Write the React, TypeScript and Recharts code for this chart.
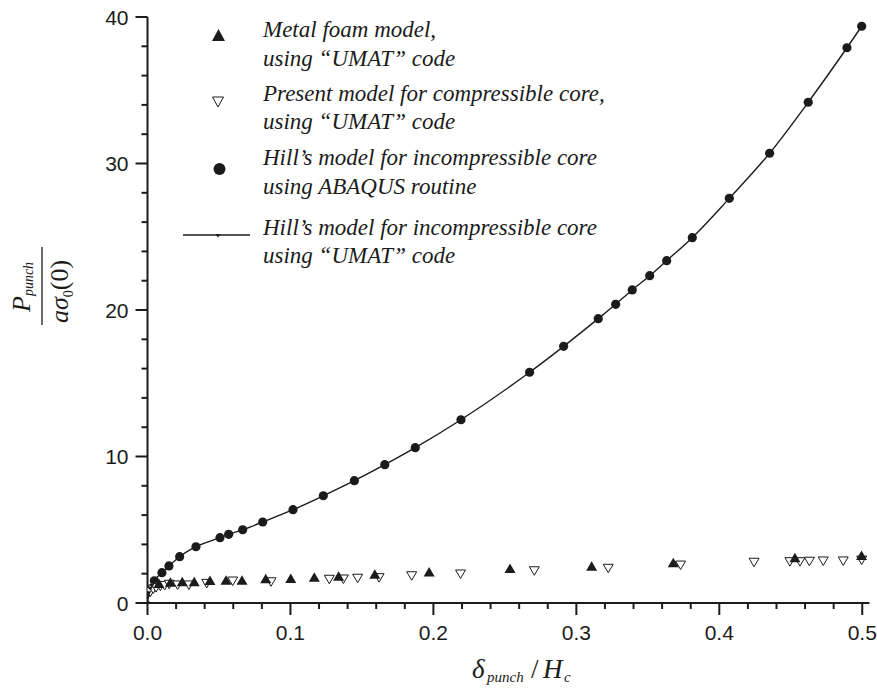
import { ComposedChart, Legend, Line, Scatter, XAxis, YAxis } from "recharts";

const ink = "#1b1b1b";
const serif = '"Liberation Serif", "Times New Roman", serif';
const sans = '"Liberation Sans", Arial, Helvetica, sans-serif';

// axis ticks (minor every 0.02 / 2, labelled every 0.1 / 10)
const xTicks = [
  0, 0.02, 0.04, 0.06, 0.08, 0.1, 0.12, 0.14, 0.16, 0.18, 0.2, 0.22, 0.24, 0.26,
  0.28, 0.3, 0.32, 0.34, 0.36, 0.38, 0.4, 0.42, 0.44, 0.46, 0.48, 0.5,
];
const xLabels = [0, 0.1, 0.2, 0.3, 0.4, 0.5];
const yTicks = [0, 2, 4, 6, 8, 10, 12, 14, 16, 18, 20, 22, 24, 26, 28, 30, 32, 34, 36, 38, 40];
const yLabels = [0, 10, 20, 30, 40];

// Hill's model, ABAQUS routine (filled circles)
const hillX = [
  0.0048, 0.0101, 0.015, 0.0225, 0.0339, 0.0507, 0.0568, 0.0666, 0.0806, 0.1018, 0.123,
  0.1447, 0.166, 0.1873, 0.2193, 0.2673, 0.2911, 0.3153, 0.3275, 0.3391, 0.3513, 0.3632,
  0.3811, 0.407, 0.4352, 0.4622, 0.4893, 0.4996,
];
const hillY = [
  1.52, 2.07, 2.53, 3.16, 3.84, 4.46, 4.69, 5.0, 5.53, 6.37, 7.32, 8.35, 9.44, 10.6, 12.51,
  15.75, 17.52, 19.41, 20.39, 21.37, 22.34, 23.37, 24.94, 27.62, 30.7, 34.18, 37.9, 39.37,
];

// Hill's model, UMAT code (solid line)
const umatX = [0, 0.0005, 0.001, 0.002, 0.003, ...hillX];
const umatY = [0, 0.45, 0.7, 1.0, 1.2, ...hillY];

// metal foam model (filled up-triangles)
const foamX = [
  0.008, 0.016, 0.0243, 0.0327, 0.0437, 0.0549, 0.0661, 0.0827, 0.1002, 0.1167, 0.1337,
  0.159, 0.197, 0.2536, 0.3107, 0.3678, 0.4529, 0.4995,
];
const foamY = [
  1.3, 1.38, 1.41, 1.41, 1.5, 1.52, 1.52, 1.62, 1.64, 1.73, 1.8, 1.93, 2.09, 2.32, 2.48,
  2.71, 3.05, 3.2,
];

// present model, compressible core (open down-triangles)
const presX = [
  0.002, 0.004, 0.006, 0.009, 0.012, 0.0152, 0.0211, 0.029, 0.0414, 0.0596, 0.0864,
  0.1272, 0.137, 0.147, 0.162, 0.1848, 0.219, 0.2706, 0.3223, 0.3729, 0.4243, 0.4494,
  0.4564, 0.463, 0.4727, 0.4867, 0.4996,
];
const presY = [
  0.75, 0.95, 1.05, 1.15, 1.2, 1.28, 1.23, 1.23, 1.34, 1.5, 1.45, 1.62, 1.64, 1.69, 1.73,
  1.86, 1.98, 2.2, 2.37, 2.59, 2.78, 2.82, 2.82, 2.85, 2.87, 2.87, 2.93,
];

const zip = (xs: number[], ys: number[]) => xs.map((x, i) => ({ x, y: ys[i] }));

const isMajor = (list: number[], v: number) => list.some((m) => Math.abs(m - v) < 1e-9);

const XTick = (props: any) => {
  const { x, y, payload } = props;
  const major = isMajor(xLabels, payload.value);
  return (
    <g>
      <line x1={x} x2={x} y1={y} y2={y + (major ? 12 : 6)} stroke={ink} strokeWidth={2} />
      {major && (
        <text x={x} y={y + 37} textAnchor="middle" fontSize={21} fontFamily={sans} fill={ink}>
          {payload.value.toFixed(1)}
        </text>
      )}
    </g>
  );
};

const YTick = (props: any) => {
  const { x, y, payload } = props;
  const major = isMajor(yLabels, payload.value);
  return (
    <g>
      <line x1={x - (major ? 12 : 6)} x2={x} y1={y} y2={y} stroke={ink} strokeWidth={2} />
      {major && (
        <text x={x - 19} y={y + 7.5} textAnchor="end" fontSize={21} fontFamily={sans} fill={ink}>
          {payload.value}
        </text>
      )}
    </g>
  );
};

const UpTri = (p: any) => {
  const { cx, cy } = p;
  return <path d={`M${cx},${cy - 5.5}L${cx - 5.5},${cy + 4}L${cx + 5.5},${cy + 4}Z`} fill={ink} />;
};

const DownTri = (p: any) => {
  const { cx, cy } = p;
  return (
    <path
      d={`M${cx - 5},${cy - 4}L${cx + 5},${cy - 4}L${cx},${cy + 4.5}Z`}
      fill="#fff"
      stroke={ink}
      strokeWidth={1}
    />
  );
};

const Dot = (p: any) => <circle cx={p.cx} cy={p.cy} r={4.6} fill={ink} />;

const TinyTri = (p: any) => (
  <path
    key={`t${p.index}`}
    d={`M${p.cx - 2.5},${p.cy - 1.5}L${p.cx + 2.5},${p.cy - 1.5}L${p.cx},${p.cy + 2.5}Z`}
    fill={ink}
  />
);

const XTitle = () => (
  <text y={678} fontFamily={serif} fill={ink}>
    <tspan x={472} fontSize={27} fontStyle="italic">δ</tspan>
    <tspan x={487} dy={4} fontSize={15} fontStyle="italic">punch</tspan>
    <tspan x={531} dy={-4} fontSize={27}>/</tspan>
    <tspan x={543} fontSize={27} fontStyle="italic">H</tspan>
    <tspan x={564} dy={4} fontSize={15} fontStyle="italic">c</tspan>
  </text>
);

const YTitle = () => (
  <g transform="translate(42,286) rotate(-90)" fontFamily={serif} fill={ink}>
    <line x1={-39} x2={39} y1={0} y2={0} stroke={ink} strokeWidth={1.3} />
    <text x={-26} y={-12}>
      <tspan fontSize={26} fontStyle="italic">P</tspan>
      <tspan dy={3} fontSize={14} fontStyle="italic">punch</tspan>
    </text>
    <text x={-37} y={26}>
      <tspan fontSize={26} fontStyle="italic">aσ</tspan>
      <tspan dy={5} fontSize={14}>0</tspan>
      <tspan dy={-5} fontSize={26}>(0)</tspan>
    </text>
  </g>
);

const legendLines: [string, number][] = [
  ["Metal foam model,", 37],
  ["using \u201cUMAT\u201d code", 66],
  ["Present model for compressible core,", 101],
  ["using \u201cUMAT\u201d code", 129],
  ["Hill\u2019s model for incompressible core", 165],
  ["using ABAQUS routine", 194],
  ["Hill\u2019s model for incompressible core", 235],
  ["using \u201cUMAT\u201d code", 263],
];

const LegendBox = () => (
  <svg width={877} height={290} style={{ display: "block" }}>
    <path d="M218.5,29L212,41L225,41Z" fill={ink} />
    <path d="M212.5,97L223.5,97L218,107Z" fill="#fff" stroke={ink} strokeWidth={1} />
    <circle cx={219.5} cy={169} r={6} fill={ink} />
    <line x1={183} x2={250} y1={235} y2={235} stroke={ink} strokeWidth={1.5} />
    <path d="M215.5,234L220.5,234L218,237.5Z" fill={ink} />
    {legendLines.map(([t, y], i) => (
      <text key={i} x={263} y={y} fontFamily={serif} fontStyle="italic" fontSize={23} fill={ink}>
        {t}
      </text>
    ))}
  </svg>
);

export default function App() {
  return (
    <div style={{ position: "absolute", left: 0, top: 0, width: 877, height: 689, background: "#fff" }}>
      <ComposedChart width={877} height={689} margin={{ top: 17, right: 7.6, bottom: 6, left: 47.5 }}>
        <XAxis
          type="number"
          dataKey="x"
          domain={[0, 0.505]}
          allowDataOverflow
          ticks={xTicks}
          interval={0}
          height={80}
          tickSize={0}
          tickMargin={0}
          tickLine={false}
          tick={<XTick />}
          axisLine={{ stroke: ink, strokeWidth: 2 }}
          label={{ content: () => <XTitle /> }}
        />
        <YAxis
          type="number"
          dataKey="y"
          domain={[0, 40]}
          allowDataOverflow
          ticks={yTicks}
          interval={0}
          width={100}
          tickSize={0}
          tickMargin={0}
          tickLine={false}
          tick={<YTick />}
          axisLine={{ stroke: ink, strokeWidth: 2 }}
          label={{ content: () => <YTitle /> }}
        />
        <Legend
          layout="horizontal"
          verticalAlign="middle"
          align="center"
          wrapperStyle={{ position: "absolute", left: 0, top: 0, width: 877, height: 290, margin: 0 }}
          content={() => <LegendBox />}
        />
        <Line
          data={zip(umatX, umatY)}
          dataKey="y"
          type="monotone"
          stroke={ink}
          strokeWidth={1.4}
          dot={TinyTri}
          activeDot={false}
          isAnimationActive={false}
        />
        <Scatter data={zip(hillX, hillY)} dataKey="y" shape={Dot} isAnimationActive={false} />
        <Scatter data={zip(presX, presY)} dataKey="y" shape={DownTri} isAnimationActive={false} />
        <Scatter data={zip(foamX, foamY)} dataKey="y" shape={UpTri} isAnimationActive={false} />
      </ComposedChart>
    </div>
  );
}
